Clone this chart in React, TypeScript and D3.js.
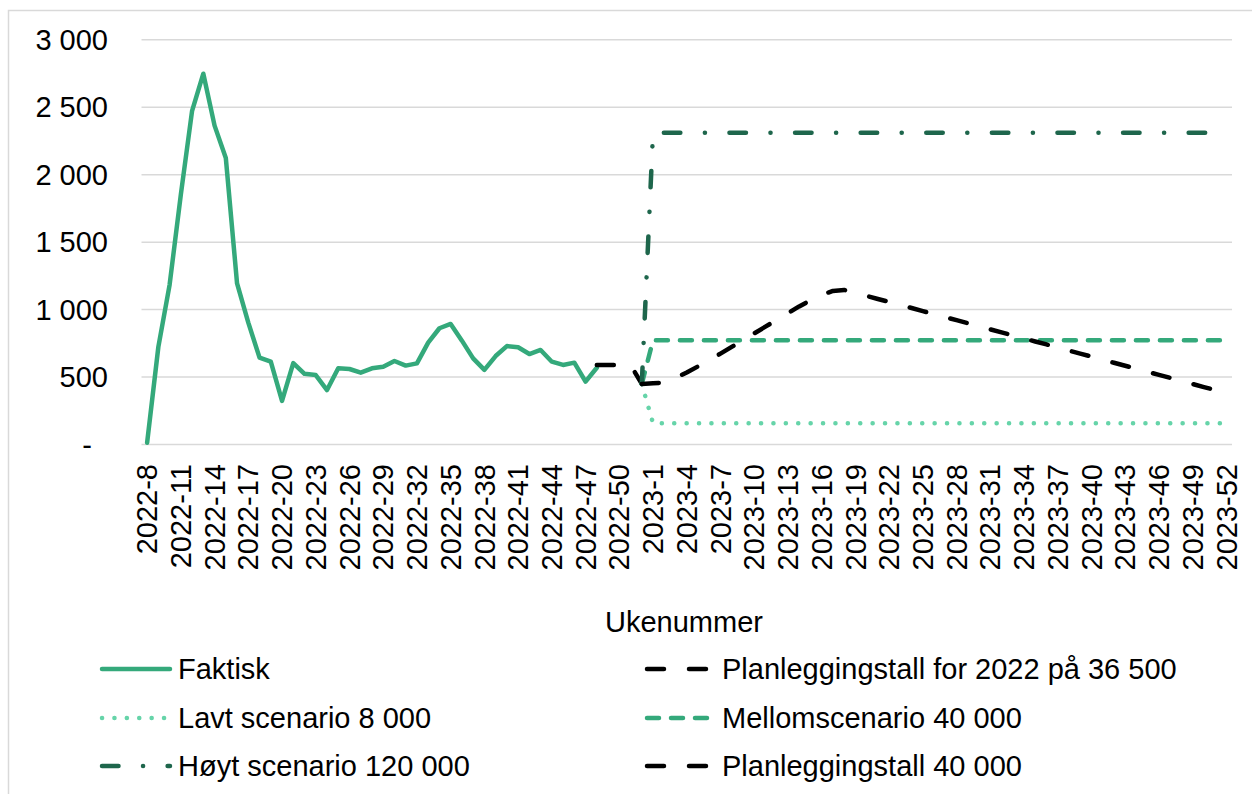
import React, { useEffect, useRef } from "react";
import * as d3 from "d3";

// week labels: 2022-8 ... 2022-52, 2023-1 ... 2023-52
const weeks2022 = d3.range(8, 53).map((w) => `2022-${w}`);
const weeks2023 = d3.range(1, 53).map((w) => `2023-${w}`);
const categories = [...weeks2022, ...weeks2023];

const yTicks = [0, 500, 1000, 1500, 2000, 2500, 3000];

// Faktisk, 2022-8 to 2022-48
const faktisk = [
  10, 720, 1180, 1850, 2470, 2745, 2360, 2120, 1190, 900,
  640, 610, 320, 600, 520, 511, 400, 561, 556, 529,
  561, 573, 615, 581, 598, 751, 858, 890, 766, 635,
  549, 652, 726, 717, 667, 697, 610, 586, 603, 462,
  565,
];

// Planleggingstall for 2022 på 36 500, 2022-48 to 2022-52
const plan2022 = [585, 585, 585, 585, 445];

// scenarios, 2022-52 to 2023-52
const lavt = [
  445, 154, 154, 154, 154, 154, 154, 154, 154, 154, 154, 154, 154, 154, 154, 154, 154, 154,
  154, 154, 154, 154, 154, 154, 154, 154, 154, 154, 154, 154, 154, 154, 154, 154, 154, 154,
  154, 154, 154, 154, 154, 154, 154, 154, 154, 154, 154, 154, 154, 154, 154, 154, 154,
];
const mellom = [
  445, 769, 769, 769, 769, 769, 769, 769, 769, 769, 769, 769, 769, 769, 769, 769, 769, 769,
  769, 769, 769, 769, 769, 769, 769, 769, 769, 769, 769, 769, 769, 769, 769, 769, 769, 769,
  769, 769, 769, 769, 769, 769, 769, 769, 769, 769, 769, 769, 769, 769, 769, 769, 769,
];
const hoyt = [
  445, 2308, 2308, 2308, 2308, 2308, 2308, 2308, 2308, 2308, 2308, 2308, 2308, 2308, 2308, 2308, 2308, 2308,
  2308, 2308, 2308, 2308, 2308, 2308, 2308, 2308, 2308, 2308, 2308, 2308, 2308, 2308, 2308, 2308, 2308, 2308,
  2308, 2308, 2308, 2308, 2308, 2308, 2308, 2308, 2308, 2308, 2308, 2308, 2308, 2308, 2308, 2308, 2308,
];

// Planleggingstall 40 000, 2022-52 to 2023-52
const plan2023 = [
  445, 450, 455, 490, 530, 575, 622, 670, 720, 770, 820, 870, 920, 970, 1020, 1065, 1105, 1135,
  1142, 1122, 1098, 1075, 1053, 1030, 1008, 985, 962, 940, 918, 895, 872, 850, 828, 805, 782, 760,
  738, 715, 692, 670, 648, 625, 602, 580, 558, 535, 512, 490, 468, 445, 422, 400, 380,
];

const series = [
  { name: "Faktisk", start: "2022-8", values: faktisk, color: "#34A97B", dash: null },
  { name: "Planleggingstall for 2022 på 36 500", start: "2022-48", values: plan2022, color: "#000000", dash: "17 25" },
  { name: "Lavt scenario 8 000", start: "2022-52", values: lavt, color: "#66D4A9", dash: "0.1 12.3" },
  { name: "Mellomscenario 40 000", start: "2022-52", values: mellom, color: "#34A97B", dash: "12 12" },
  { name: "Høyt scenario 120 000", start: "2022-52", values: hoyt, color: "#1E664C", dash: "16.5 24.5 0.1 24.5" },
  { name: "Planleggingstall 40 000", start: "2022-52", values: plan2023, color: "#000000", dash: "17 25" },
];

const FONT = "'Liberation Sans', Arial, sans-serif";

function App() {
  const chart = useRef(null);

  useEffect(() => {
    const svg = d3.select(chart.current);
    svg.selectAll("*").remove();

    const plot = { left: 141.5, right: 1232, top: 39.3, bottom: 444 };

    // chart area border
    svg.append("rect")
      .attr("x", 8.5)
      .attr("y", 10.5)
      .attr("width", 1300)
      .attr("height", 850)
      .attr("fill", "#fff")
      .attr("stroke", "#D9D9D9")
      .attr("stroke-width", 1.5);

    const x = d3.scaleBand().domain(categories).range([plot.left, plot.right]);
    const cx = (i) => x(categories[i]) + x.bandwidth() / 2;
    const y = d3.scaleLinear().domain([0, 3000]).range([plot.bottom, plot.top]);

    // gridlines
    svg.append("g")
      .attr("transform", `translate(${plot.left},0)`)
      .call(d3.axisLeft(y).tickValues(yTicks).tickSize(-(plot.right - plot.left)).tickFormat(() => ""))
      .call((g) => g.select(".domain").remove())
      .call((g) => g.selectAll("line").attr("stroke", "#D9D9D9").attr("stroke-width", 1.5));

    // y labels
    const fmt = (v) => (v === 0 ? "-" : d3.format(",")(v).replace(/,/g, " "));
    svg.append("g")
      .attr("transform", `translate(${plot.left},0)`)
      .call(d3.axisLeft(y).tickValues(yTicks).tickSize(0).tickPadding(plot.left - 108).tickFormat(fmt))
      .call((g) => g.select(".domain").remove())
      .call((g) => g.selectAll("text")
        .attr("font-family", FONT)
        .attr("font-size", 29)
        .attr("fill", "#000")
        .attr("dy", "0.35em")
        .attr("dx", (d) => (d === 0 ? "-0.556em" : 0)));

    // x labels, every third week
    svg.append("g")
      .attr("transform", `translate(0,${plot.bottom})`)
      .call(d3.axisBottom(x).tickValues(categories.filter((_, i) => i % 3 === 0)).tickSize(0))
      .call((g) => g.select(".domain").remove())
      .call((g) => g.selectAll("text")
        .attr("font-family", FONT)
        .attr("font-size", 29)
        .attr("fill", "#000")
        .attr("transform", "rotate(-90)")
        .attr("x", -20)
        .attr("y", 0)
        .attr("dy", "0.35em")
        .attr("text-anchor", "end"));

    svg.append("text")
      .attr("x", 684)
      .attr("y", 632)
      .attr("text-anchor", "middle")
      .attr("font-family", FONT)
      .attr("font-size", 29)
      .text("Ukenummer");

    // lines
    series.forEach((s) => {
      const offset = categories.indexOf(s.start);
      const line = d3.line()
        .x((d, i) => cx(offset + i))
        .y((d) => y(d));
      svg.append("path")
        .datum(s.values)
        .attr("d", line)
        .attr("fill", "none")
        .attr("stroke", s.color)
        .attr("stroke-width", 4.5)
        .attr("stroke-linecap", "round")
        .attr("stroke-linejoin", "round")
        .attr("stroke-dasharray", s.dash);
    });

    // legend, two columns
    const legendCols = [{ line: 102, text: 178 }, { line: 647, text: 722 }];
    const legendRows = [669, 718, 766];
    series.forEach((s, i) => {
      const col = legendCols[i % 2];
      const row = legendRows[Math.floor(i / 2)];
      const g = svg.append("g");
      g.append("line")
        .attr("x1", col.line)
        .attr("x2", col.line + 68)
        .attr("y1", row)
        .attr("y2", row)
        .attr("stroke", s.color)
        .attr("stroke-width", 4.5)
        .attr("stroke-linecap", "round")
        .attr("stroke-dasharray", s.dash);
      g.append("text")
        .attr("x", col.text)
        .attr("y", row)
        .attr("dy", "0.35em")
        .attr("font-family", FONT)
        .attr("font-size", 29)
        .attr("fill", "#000")
        .text(s.name);
    });

    return () => {
      svg.selectAll("*").remove();
    };
  }, []);

  return (
    <svg
      ref={chart}
      width={1252}
      height={794}
      style={{ position: "absolute", left: 0, top: 0, background: "#fff" }}
    ></svg>
  );
}

export default App;
